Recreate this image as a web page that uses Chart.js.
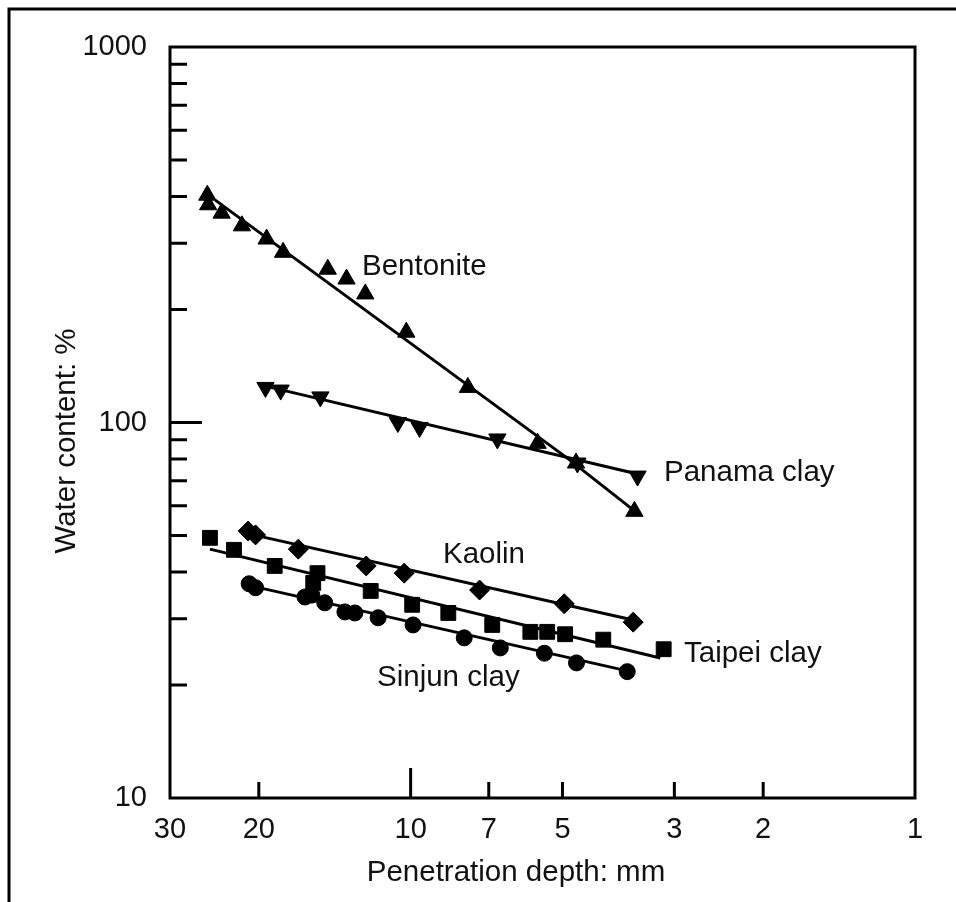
<!DOCTYPE html>
<html>
<head>
<meta charset="utf-8">
<script src="https://cdn.jsdelivr.net/npm/chart.js@4.4.1/dist/chart.umd.min.js"></script>
<style>
  html, body { margin: 0; padding: 0; background: #fff; }
  canvas { display: block; }
</style>
</head>
<body>
<canvas id="chart" width="956" height="902"></canvas>
<script>
// penetration depth (mm) vs water content (%)
const bentoniteDepth = [25.3, 25.2, 23.7, 21.6, 19.3, 17.9, 14.6, 13.4, 12.3, 10.2, 7.7, 5.6, 4.7, 3.6];
const bentoniteWater = [403, 380, 361, 334, 308, 284, 256, 241, 220, 174, 124, 88, 78, 58];

const panamaDepth = [19.4, 18.1, 15.1, 10.6, 9.6, 6.73, 4.67, 3.55];
const panamaWater = [124, 122, 117, 100, 97, 90.4, 78, 72];

const kaolinDepth = [21.0, 20.3, 16.7, 12.25, 10.3, 7.3, 4.96, 3.62];
const kaolinWater = [51.4, 50.2, 46.0, 41.5, 39.7, 35.8, 32.9, 29.4];

const taipeiDepth = [25.0, 22.4, 18.6, 15.3, 15.6, 12.0, 9.93, 8.42, 6.89, 5.79, 5.36, 4.94, 4.15, 3.15];
const taipeiWater = [49.3, 45.8, 41.5, 39.7, 37.4, 35.6, 32.7, 31.1, 28.9, 27.7, 27.7, 27.3, 26.4, 24.9];

const sinjunDepth = [20.9, 20.3, 16.2, 15.7, 14.8, 13.5, 12.9, 11.6, 9.89, 7.83, 6.64, 5.43, 4.69, 3.72];
const sinjunWater = [37.2, 36.3, 34.3, 34.7, 33.1, 31.3, 31.1, 30.2, 28.9, 26.7, 25.1, 24.3, 22.9, 21.7];

// fitted lines
const bentoniteFitDepth = [24.4, 4.89, 3.62];
const bentoniteFitWater = [391, 80.4, 58.5];
const panamaFitDepth = [19.4, 3.55];
const panamaFitWater = [125, 72.9];
const kaolinFitDepth = [20.5, 3.62];
const kaolinFitWater = [50.2, 29.8];
const taipeiFitDepth = [25.0, 3.20];
const taipeiFitWater = [46.0, 23.6];
const sinjunFitDepth = [20.3, 3.72];
const sinjunFitWater = [36.5, 21.8];

// axes
const xTickValues = [30, 20, 10, 7, 5, 3, 2, 1];
const xMinorTicks = [20, 7, 5, 3, 2];
const xMajorTicks = [10];
const yTickValues = [10, 100, 1000];
const yMinorTicks = [20, 30, 40, 50, 60, 70, 80, 90, 200, 300, 400, 500, 600, 700, 800, 900];
const yMajorTicks = [100];

const FONT = "'Liberation Sans', Arial, sans-serif";
const INK = '#111';

function pts(xs, ys) {
    return xs.map((x, i) => ({ x: x, y: ys[i] }));
}

function pointSet(label, xs, ys, style, radius, rotation) {
    return {
        label: label,
        data: pts(xs, ys),
        pointStyle: style,
        pointRadius: radius,
        pointRotation: rotation || 0,
        backgroundColor: '#000',
        borderColor: '#000',
        borderWidth: 1,
        showLine: false
    };
}

function fitSet(label, xs, ys) {
    return {
        label: label,
        data: pts(xs, ys),
        showLine: true,
        borderColor: '#000',
        borderWidth: 3,
        pointRadius: 0,
        tension: 0
    };
}

const decorations = {
    id: 'decorations',
    afterDraw(chart) {
        const ctx = chart.ctx;
        const a = chart.chartArea;
        const xs = chart.scales.x;
        const ys = chart.scales.y;
        ctx.save();
        ctx.strokeStyle = '#000';
        ctx.lineCap = 'butt';

        // outer frame (left and top)
        ctx.lineWidth = 3;
        ctx.beginPath();
        ctx.moveTo(9, 902);
        ctx.lineTo(9, 9);
        ctx.lineTo(956, 9);
        ctx.stroke();

        // plot box
        ctx.lineWidth = 3;
        ctx.strokeRect(a.left, a.top, a.right - a.left, a.bottom - a.top);

        // inward ticks
        ctx.lineWidth = 3;
        ctx.beginPath();
        yMinorTicks.forEach(v => {
            const y = ys.getPixelForValue(v);
            ctx.moveTo(a.left, y); ctx.lineTo(a.left + 17, y);
        });
        yMajorTicks.forEach(v => {
            const y = ys.getPixelForValue(v);
            ctx.moveTo(a.left, y); ctx.lineTo(a.left + 32, y);
        });
        xMinorTicks.forEach(v => {
            const x = xs.getPixelForValue(v);
            ctx.moveTo(x, a.bottom); ctx.lineTo(x, a.bottom - 16);
        });
        xMajorTicks.forEach(v => {
            const x = xs.getPixelForValue(v);
            ctx.moveTo(x, a.bottom); ctx.lineTo(x, a.bottom - 30);
        });
        ctx.stroke();

        // axis titles
        ctx.fillStyle = INK;
        ctx.font = '29.5px ' + FONT;
        ctx.textBaseline = 'middle';
        ctx.textAlign = 'center';
        ctx.fillText('Penetration depth: mm', 516, 873);
        ctx.save();
        ctx.translate(67, 441);
        ctx.rotate(-Math.PI / 2);
        ctx.fillText('Water content: %', 0, 0);
        ctx.restore();

        // series labels
        ctx.textAlign = 'left';
        ctx.fillText('Bentonite', 362, 267);
        ctx.fillText('Panama clay', 664, 473);
        ctx.fillText('Kaolin', 443, 555);
        ctx.fillText('Taipei clay', 684, 654);
        ctx.fillText('Sinjun clay', 377, 678);
        ctx.restore();
    }
};

new Chart(document.getElementById('chart'), {
    type: 'scatter',
    data: {
        datasets: [
            pointSet('Bentonite', bentoniteDepth, bentoniteWater, 'triangle', 10),
            pointSet('Panama clay', panamaDepth, panamaWater, 'triangle', 10, 180),
            pointSet('Kaolin', kaolinDepth, kaolinWater, 'rectRot', 10),
            pointSet('Taipei clay', taipeiDepth, taipeiWater, 'rect', 10.5),
            pointSet('Sinjun clay', sinjunDepth, sinjunWater, 'circle', 8),
            fitSet('Bentonite fit', bentoniteFitDepth, bentoniteFitWater),
            fitSet('Panama fit', panamaFitDepth, panamaFitWater),
            fitSet('Kaolin fit', kaolinFitDepth, kaolinFitWater),
            fitSet('Taipei fit', taipeiFitDepth, taipeiFitWater),
            fitSet('Sinjun fit', sinjunFitDepth, sinjunFitWater)
        ]
    },
    options: {
        responsive: false,
        animation: false,
        layout: {
            padding: { left: 0, top: 47, right: 41, bottom: 0 }
        },
        plugins: {
            legend: { display: false },
            tooltip: { enabled: false }
        },
        scales: {
            x: {
                type: 'logarithmic',
                position: 'bottom',
                min: 1,
                max: 30,
                reverse: true,
                afterBuildTicks: scale => {
                    scale.ticks = xTickValues.map(v => ({ value: v }));
                },
                afterFit: scale => { scale.height = 104; },
                grid: { display: false, drawTicks: false },
                border: { display: false },
                ticks: {
                    autoSkip: false,
                    maxRotation: 0,
                    padding: 15,
                    color: INK,
                    font: { family: FONT, size: 29 },
                    callback: v => String(v)
                }
            },
            y: {
                type: 'logarithmic',
                position: 'left',
                min: 10,
                max: 1000,
                afterBuildTicks: scale => {
                    scale.ticks = yTickValues.map(v => ({ value: v }));
                },
                afterFit: scale => { scale.width = 170; },
                grid: { display: false, drawTicks: false },
                border: { display: false },
                ticks: {
                    autoSkip: false,
                    padding: 23,
                    color: INK,
                    font: { family: FONT, size: 29 },
                    callback: v => String(v)
                }
            }
        }
    },
    plugins: [decorations]
});
</script>
</body>
</html>
